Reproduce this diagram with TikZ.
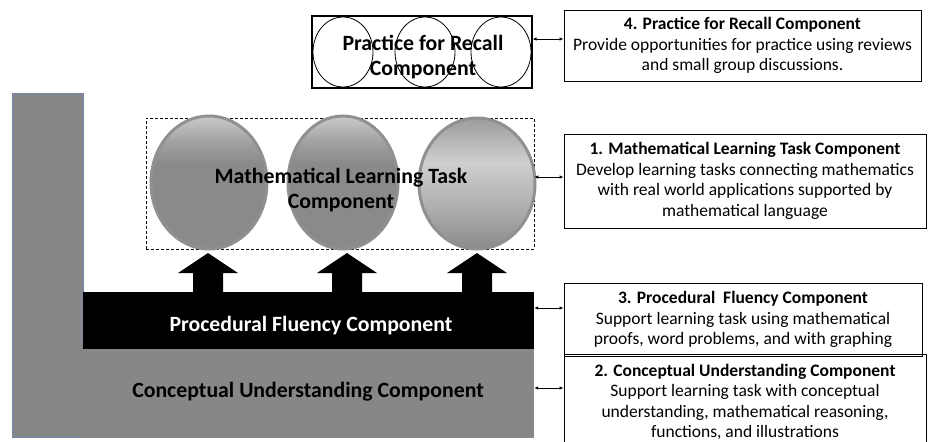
\documentclass[tikz,border=0pt]{standalone}
\usepackage{fontspec}
\setmainfont{Carlito}
\usetikzlibrary{arrows.meta,calc,shapes.geometric}
\definecolor{barblue}{HTML}{7C879B}
\definecolor{midgray}{HTML}{878787}
\definecolor{sphT}{HTML}{CACACA}
\definecolor{sphM}{HTML}{A0A0A0}
\definecolor{sphB}{HTML}{8A8A8A}
\definecolor{sphrim}{HTML}{909090}
\definecolor{sphCa}{HTML}{9C9C9C}
\definecolor{sphCb}{HTML}{CFCFCF}
\definecolor{sphCc}{HTML}{A8A8A8}
\pgfdeclareverticalshading{sphA}{100bp}{color(0bp)=(sphB); color(25bp)=(sphB); color(57bp)=(sphB); color(65bp)=(sphM); color(75bp)=(sphT); color(100bp)=(sphT)}
\pgfdeclareverticalshading{sphC}{100bp}{color(0bp)=(sphB); color(25bp)=(sphB); color(38bp)=(sphCc); color(58bp)=(sphCb); color(75bp)=(sphCa); color(100bp)=(sphCa)}
\tikzset{
  infobox/.style={draw=black, line width=0.9pt, inner sep=0pt, align=center,
    font=\fontsize{17.5}{20.5}\selectfont},
  bigtext/.style={font=\fontsize{21.8}{25}\selectfont\bfseries, align=center, inner sep=0pt},
  sphere/.style={ellipse, draw=sphrim, line width=3pt, shade, inner sep=0pt},
  link/.style={{Latex[length=4pt,width=3.5pt]}-{Latex[length=4pt,width=3.5pt]}, line width=0.8pt},
  recircle/.style={draw=black, line width=0.8pt}
}
\begin{document}
\begin{tikzpicture}[x=1pt,y=-1pt]
\useasboundingbox (0,0) rectangle (930,442);
% left L-shaped base
\node[fill=midgray, draw=barblue, line width=2pt, minimum width=70pt, minimum height=343pt, inner sep=0pt] (bar) at (48,265.5) {};
\node[fill=midgray, minimum width=454pt, minimum height=89pt, inner sep=0pt] (cu) at (307,393.5) {};
\node[bigtext] (cutext) at (308,392) {Conceptual Understanding Component};
\node[fill=black, minimum width=451pt, minimum height=57pt, inner sep=0pt] (pf) at (308.5,320.5) {};
\node[bigtext, text=white] (pftext) at (311,326) {Procedural Fluency Component};
% dashed frame
\node[draw=black, dashed, dash pattern=on 3pt off 2pt, line width=0.6pt, minimum width=388pt, minimum height=131pt, inner sep=0pt] (mlt) at (340,183.5) {};
% spheres
\node[sphere, shading=sphA, minimum width=116pt, minimum height=133pt] (s1) at (209,182.5) {};
\node[sphere, shading=sphA, minimum width=110pt, minimum height=133pt] (s2) at (343,182.5) {};
\node[sphere, shading=sphC, minimum width=116pt, minimum height=131pt] (s3) at (477,183.5) {};
\node[bigtext] (mlttext) at (341,190.5) {Mathematical Learning Task\\Component};
% block arrows
\coordinate (b1) at (208,292);
\coordinate (b2) at (347,292);
\coordinate (b3) at (477,292);
\foreach \b in {b1,b2,b3}{
  \fill[black] ($(\b)+(-15,0)$) -- ++(0,-19) -- ++(-15,0) -- ++(30,-20) -- ++(30,20) -- ++(-15,0) -- ++(0,19) -- cycle;
}
% practice for recall box
\node[draw=black, line width=1.2pt, minimum width=220pt, minimum height=72pt, inner sep=0pt] (pr) at (422,52) {};
\draw[recircle] (343,52) ellipse [x radius=30, y radius=35];
\draw[recircle] (425,52) ellipse [x radius=30, y radius=35];
\draw[recircle] (501,52) ellipse [x radius=30, y radius=35];
\node[bigtext] (prtext) at (423,57.5) {Practice for Recall\\Component};
% info boxes
\node[infobox, minimum width=357pt, minimum height=71pt] (box4) at (742.5,45.5)
  {\textbf{4. Practice for Recall Component}\\Provide opportunities for practice using reviews\\and small group discussions.};
\node[infobox, minimum width=362pt, minimum height=94pt] (box1) at (745,181)
  {\textbf{1. Mathematical Learning Task Component}\\Develop learning tasks connecting mathematics\\with real world applications supported by\\mathematical language};
\node[infobox, minimum width=358pt, minimum height=73pt] (box3) at (743,319.5)
  {\textbf{3. Procedural\ \ Fluency Component}\\Support learning task using mathematical\\proofs, word problems, and with graphing};
\node[infobox, minimum width=362pt, minimum height=96pt] (box2) at (745,402)
  {\textbf{2. Conceptual Understanding Component}\\Support learning task with conceptual\\understanding, mathematical reasoning,\\functions, and illustrations};
% links
\coordinate (y4) at (0,39);
\coordinate (y1) at (0,177);
\coordinate (y3) at (0,308);
\coordinate (y2) at (0,388);
\draw[link] (pr.east |- y4) -- (box4.west |- y4);
\draw[link] (mlt.east |- y1) -- (box1.west |- y1);
\draw[link] (pf.east |- y3) -- (box3.west |- y3);
\draw[link] (cu.east |- y2) -- (box2.west |- y2);
\end{tikzpicture}
\end{document}
